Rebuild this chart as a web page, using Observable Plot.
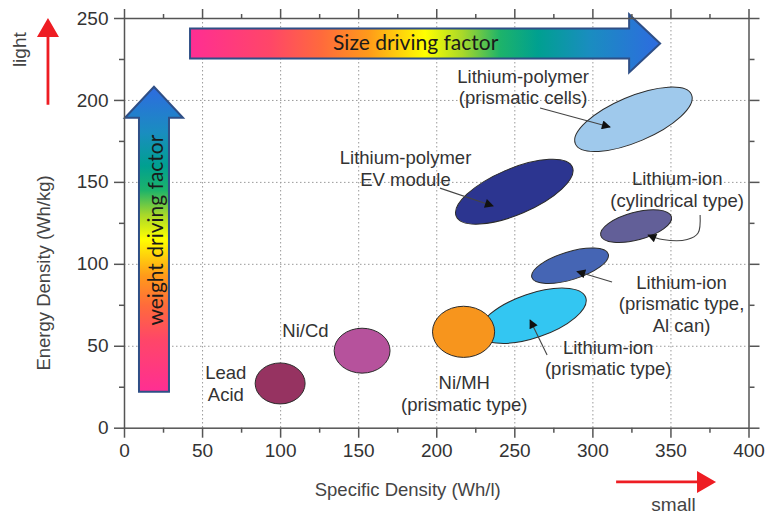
<!DOCTYPE html>
<html><head><meta charset="utf-8">
<script src="https://cdn.jsdelivr.net/npm/d3@7"></script>
<script src="https://cdn.jsdelivr.net/npm/@observablehq/plot@0.6"></script>
<style>body{margin:0;background:#fff}</style>
</head><body><div id="chart"></div>
<script>
// ---- data ----
const majorX = [0, 50, 100, 150, 200, 250, 300, 350, 400];
const minorX = [25, 75, 125, 175, 225, 275, 325, 375];
const majorY = [0, 50, 100, 150, 200, 250];
const minorY = [25, 75, 125, 175, 225];
const gridXVals = [50, 100, 150, 200, 250, 300, 350];
const gridYVals = [50, 100, 150, 200];

// battery regions: centre (Wh/l, Wh/kg), semi-axes (Wh/l, Wh/kg), tilt (deg)
const batteries = ["Lead Acid", "Ni/Cd", "Lithium-ion (prismatic type)", "Ni/MH (prismatic type)",
  "Lithium-ion (prismatic type, Al can)", "Lithium-ion (cylindrical type)",
  "Lithium-polymer EV module", "Lithium-polymer (prismatic cells)"];
const centerX = [100, 152.5, 261.8, 217.5, 285.7, 328, 250, 326.3];
const centerY = [27, 47, 68.3, 58.5, 98.8, 123, 144, 188.2];
const semiX = [16, 17.9, 35.9, 19.9, 25.6, 23.4, 40.4, 40.4];
const semiY = [12.5, 13.7, 13.4, 15.6, 8.5, 8.5, 14, 13.8];
const tilt = [0, 0, 19, 0, 17, 15, 23, 23];
const fills = ["#963361", "#b6529c", "#33c6f2", "#f7951d", "#4565b4", "#625f98", "#2c3590", "#9fc9ec"];

// labels
const labelText = ["Lithium-polymer\n(prismatic cells)", "Lithium-polymer\nEV module", "Lithium-ion\n(cylindrical type)",
  "Lithium-ion\n(prismatic type,\nAl can)", "Lithium-ion\n(prismatic type)", "Ni/MH\n(prismatic type)", "Ni/Cd", "Lead\nAcid"];
const labelX = [255.3, 180, 354, 356.8, 309.8, 217.6, 115.9, 64.9];
const labelY = [208.5, 158.8, 146, 76.1, 43, 21.5, 59.6, 27.6];

// leader arrows (data coords)
const leaders = [
  [[266.5, 195.1], [311.3, 183.5]],
  [[202.4, 146.2], [236.4, 135.3]],
  [[369, 129.8], [367.7, 118.8], [360.7, 114.8], [345, 114.8], [335.7, 117.6]],
  [[312.6, 88.9], [290.2, 95.3]],
  [[271, 44.4], [260.1, 65.7]]
];

// driving-factor arrows (data coords)
const factorNames = ["Size driving factor", "weight driving factor"];
const factorFrom = [[42.3, 234.5], [19.2, 22]];
const factorTo = [[343.4, 234.5], [19.2, 208]];

// red direction cues
const cueNames = ["light", "small"];
const cueFrom = [[-48.7, 197], [315.2, -33.1]];
const cueTo = [[-48.7, 250], [379.2, -33.1]];

// ---- build tables ----
const regions = batteries.map((name, i) => ({name, x: centerX[i], y: centerY[i], rx: semiX[i], ry: semiY[i], angle: tilt[i], fill: fills[i]}));
const labels = labelText.map((text, i) => ({text, x: labelX[i], y: labelY[i]}));

const gradStops = [[0, "#ff2e93"], [0.17, "#ff4668"], [0.28, "#ff6a3c"], [0.38, "#ff9a1a"], [0.5, "#ffff00"],
  [0.58, "#a8d82a"], [0.66, "#1db36a"], [0.74, "#00a090"], [0.85, "#1a8dc0"], [1, "#2e6be0"]];

function arrowPath(x0, y0, x1, y1, bw, hl, hw) {
  const dx = x1 - x0, dy = y1 - y0, L = Math.hypot(dx, dy), ux = dx / L, uy = dy / L, nx = -uy, ny = ux;
  const bx = x1 - ux * hl, by = y1 - uy * hl;
  const pts = [[x0 + nx * bw, y0 + ny * bw], [bx + nx * bw, by + ny * bw], [bx + nx * hw, by + ny * hw], [x1, y1],
    [bx - nx * hw, by - ny * hw], [bx - nx * bw, by - ny * bw], [x0 - nx * bw, y0 - ny * bw]];
  return "M" + pts.map(p => p[0].toFixed(2) + "," + p[1].toFixed(2)).join("L") + "Z";
}

function factorMark(index, scales) {
  const {x, y} = scales;
  const g = d3.create("svg:g");
  const defs = g.append("defs");
  const dirs = [[0, 0, 1, 0], [0, 1, 0, 0]];
  factorNames.forEach((name, i) => {
    const lg = defs.append("linearGradient").attr("id", "fgrad" + i)
      .attr("x1", dirs[i][0]).attr("y1", dirs[i][1]).attr("x2", dirs[i][2]).attr("y2", dirs[i][3]);
    gradStops.forEach(([o, c]) => lg.append("stop").attr("offset", o).attr("stop-color", c));
    const x0 = x(factorFrom[i][0]), y0 = y(factorFrom[i][1]), x1 = x(factorTo[i][0]), y1 = y(factorTo[i][1]);
    g.append("path").attr("d", arrowPath(x0, y0, x1, y1, 15, 31, 29))
      .attr("fill", `url(#fgrad${i})`).attr("stroke", "#2f4f86").attr("stroke-width", 2).attr("stroke-linejoin", "miter");
    const t = i === 0 ? 0.48 : 0.53;
    const tx = x0 + (x1 - x0) * t, ty = y0 + (y1 - y0) * t;
    g.append("text").attr("x", 0).attr("y", 0).attr("dy", "0.32em")
      .attr("transform", `translate(${tx + (i === 1 ? 2 : 0)},${ty}) rotate(${i === 1 ? -90 : 0})`)
      .attr("text-anchor", "middle").attr("font-family", "Lato, 'Open Sans', sans-serif").attr("font-size", 21)
      .attr("fill", "#1a1a1a").text(name);
  });
  return g.node();
}

function regionMark(index, scales) {
  const {x, y} = scales;
  const kx = (x(400) - x(0)) / 400, ky = (y(0) - y(250)) / 250;
  const g = d3.create("svg:g");
  regions.forEach(e => {
    g.append("ellipse").attr("cx", 0).attr("cy", 0).attr("rx", e.rx * kx).attr("ry", e.ry * ky)
      .attr("transform", `translate(${x(e.x)},${y(e.y)}) rotate(${-e.angle})`)
      .attr("fill", e.fill).attr("stroke", "#2b2b2b").attr("stroke-width", 1);
  });
  return g.node();
}

function leaderMark(index, scales) {
  const {x, y} = scales;
  const g = d3.create("svg:g");
  g.append("defs").append("marker").attr("id", "tri").attr("viewBox", "0 0 10 10")
    .attr("refX", 9).attr("refY", 5).attr("markerWidth", 11).attr("markerHeight", 9)
    .attr("markerUnits", "userSpaceOnUse").attr("orient", "auto")
    .append("path").attr("d", "M0,0L10,5L0,10Z").attr("fill", "#111");
  const line = d3.line().x(d => x(d[0])).y(d => y(d[1])).curve(d3.curveCatmullRom);
  leaders.forEach(pts => {
    g.append("path").attr("d", line(pts)).attr("fill", "none").attr("stroke", "#444")
      .attr("stroke-width", 1.1).attr("marker-end", "url(#tri)");
  });
  return g.node();
}

function cueMark(index, scales) {
  const {x, y} = scales;
  const g = d3.create("svg:g");
  cueNames.forEach((n, i) => {
    const x0 = x(cueFrom[i][0]), y0 = y(cueFrom[i][1]), x1 = x(cueTo[i][0]), y1 = y(cueTo[i][1]);
    g.append("path").attr("d", arrowPath(x0, y0, x1, y1, 1.4, 19, 11)).attr("fill", "#ee1d23");
  });
  return g.node();
}

const font = "'Liberation Sans', Arial, Helvetica, sans-serif";
const axisCol = "#555";
const noText = () => "";
const centred = {textAnchor: "middle", lineAnchor: "middle"};

const chart = Plot.plot({
  width: 769, height: 514,
  marginLeft: 124, marginRight: 20.5, marginTop: 18, marginBottom: 86.3,
  x: {domain: [0, 400]},
  y: {domain: [0, 250]},
  style: {fontFamily: font, fontSize: "19px", color: "#333", background: "#fff", overflow: "visible"},
  marks: [
    Plot.gridX(gridXVals, {stroke: "#9a9a9a", strokeOpacity: 1, strokeDasharray: "1.5,2.5", strokeWidth: 1}),
    Plot.gridY(gridYVals, {stroke: "#9a9a9a", strokeOpacity: 1, strokeDasharray: "1.5,2.5", strokeWidth: 1}),
    factorMark,
    regionMark,
    leaderMark,
    cueMark,
    Plot.text(labels, {x: "x", y: "y", text: "text", lineHeight: 1.17, fontSize: 18.5, fill: "#333"}),
    Plot.frame({stroke: axisCol, strokeWidth: 1.5}),
    Plot.axisX(majorX, {tickSize: 10, tickPadding: 5, label: null, stroke: axisCol, strokeWidth: 1.5, fill: "#333", fontSize: 19}),
    Plot.axisX(minorX, {tickSize: 5, tickFormat: noText, label: null, stroke: axisCol, strokeWidth: 1.5}),
    Plot.axisX(majorX, {anchor: "top", tickSize: 10, tickFormat: noText, label: null, stroke: axisCol, strokeWidth: 1.5}),
    Plot.axisX(minorX, {anchor: "top", tickSize: 5, tickFormat: noText, label: null, stroke: axisCol, strokeWidth: 1.5}),
    Plot.axisY(majorY, {tickSize: 10, tickPadding: 6, label: null, stroke: axisCol, strokeWidth: 1.5, fill: "#333", fontSize: 19}),
    Plot.axisY(minorY, {tickSize: 5, tickFormat: noText, label: null, stroke: axisCol, strokeWidth: 1.5}),
    Plot.axisY(majorY, {anchor: "right", tickSize: 10, tickFormat: noText, label: null, stroke: axisCol, strokeWidth: 1.5}),
    Plot.axisY(minorY, {anchor: "right", tickSize: 5, tickFormat: noText, label: null, stroke: axisCol, strokeWidth: 1.5}),
    Plot.text(["Specific Density (Wh/l)"], {...centred, text: d => d, frameAnchor: "bottom", dx: -29, dy: 62, fontSize: 18.5, fill: "#444"}),
    Plot.text(["Energy Density (Wh/kg)"], {...centred, text: d => d, frameAnchor: "left", rotate: -90, dx: -80, dy: 49.6, fontSize: 18.5, fill: "#444"}),
    Plot.text([cueNames[0]], {...centred, text: d => d, frameAnchor: "top-left", rotate: -90, dx: -104.8, dy: 31.2, fontSize: 19, fill: "#444"}),
    Plot.text([cueNames[1]], {...centred, text: d => d, frameAnchor: "bottom-right", dx: -75.5, dy: 76.3, fontSize: 19, fill: "#444"})
  ]
});
document.getElementById("chart").append(chart);
</script>
</body></html>
